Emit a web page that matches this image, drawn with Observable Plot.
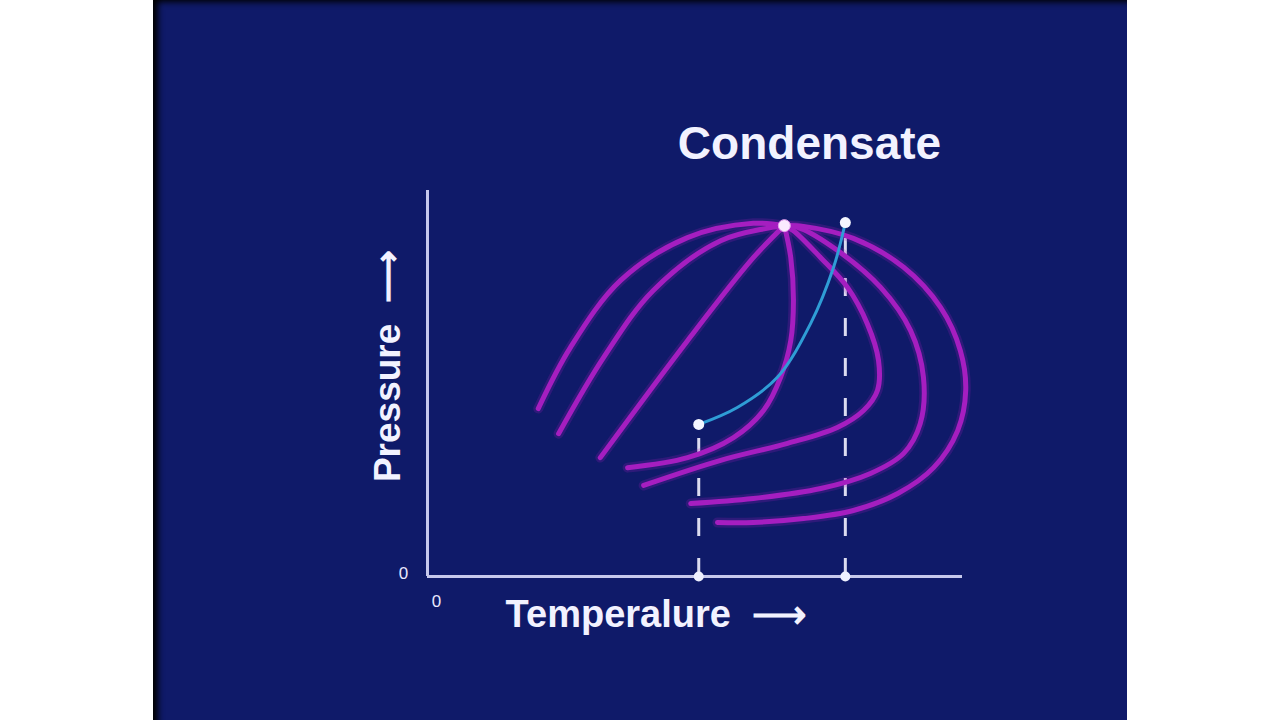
<!DOCTYPE html>
<html>
<head>
<meta charset="utf-8">
<script src="https://cdn.jsdelivr.net/npm/d3@7"></script>
<script src="https://cdn.jsdelivr.net/npm/@observablehq/plot@0.6"></script>
<style>
  html, body { margin: 0; padding: 0; background: #ffffff; width: 1280px; height: 720px; overflow: hidden; }
  #panel { position: absolute; left: 153px; top: 0; width: 974px; height: 720px;
           background: #0f1a69; box-shadow: inset 8px 5px 6px -3px #000000; }
  #chart { position: absolute; left: 0; top: 0; }
  svg text { font-family: "Liberation Sans", Arial, sans-serif; }
</style>
</head>
<body>
<div id="panel"></div>
<div id="chart"></div>
<script>
// Quality lines of the phase envelope (Temperature, Pressure), relative units 0-100
const curveA = [[20.7,43.5],[26.7,59.3],[36.1,76.7],[48.6,87.8],[60.9,91.5],[66.7,90.9]];
const curveB = [[24.5,37.0],[32.9,56.7],[42.2,74.1],[54.8,87.0],[66.7,90.9]];
const curveC = [[32.3,30.8],[48.6,61.1],[60.9,82.6],[66.7,90.9]];
const curveD = [[66.7,90.9],[67.9,82.6],[68.4,71.5],[67.9,61.1],[66.0,51.6],[62.8,43.0],[57.2,36.0],[48.6,30.8],[37.4,28.2]];
const curveE = [[66.7,90.9],[68.4,89.6],[73.5,82.6],[78.5,74.9],[82.2,65.5],[84.3,56.0],[84.1,48.2],[81.5,43.0],[76.6,38.6],[67.3,34.5],[54.8,30.1],[40.4,23.6]];
const curveF = [[66.7,90.9],[69.7,90.2],[76.6,84.5],[84.7,74.9],[90.3,63.7],[92.7,51.6],[92.1,39.6],[89.0,31.9],[82.8,26.7],[73.5,22.8],[60.9,20.2],[49.2,18.9]];
const curveG = [[66.7,90.9],[70.3,90.7],[79.6,87.6],[89.0,80.1],[95.9,69.7],[99.6,58.5],[100.6,48.2],[99.1,37.8],[94.6,28.2],[87.9,21.5],[79.6,17.1],[70.3,15.0],[60.9,14.0],[54.2,14.0]];
// Process path (cyan)
const pathLine = [[50.7,39.4],[57.9,43.8],[65.4,51.6],[71.6,65.5],[75.9,80.1],[78.1,91.7]];
// Key points
const criticalPoint = [[66.7,90.9]];
const pathEnds = [[50.7,39.4],[78.1,91.7]];
const axisDots = [[50.7,0],[78.1,0]];
// Labels
const titleText = "Condensate";
const xLabel = "Temperalure \u00a0⟶";
const yLabel = "Pressure \u00a0⟶";
const zeroLabel = "0";

const envelope = [curveA, curveB, curveC, curveD, curveE, curveF, curveG]
  .flatMap((c, i) => c.map(([t, p]) => ({t, p, id: i})));
const cyan = pathLine.map(([t, p]) => ({t, p}));
const dashes = pathEnds.map(([t, p]) => ({t, p1: 0, p2: p}));
const pts = (a) => a.map(([t, p]) => ({t, p}));

const plot = Plot.plot({
  width: 1280,
  height: 720,
  marginLeft: 427,
  marginRight: 318,
  marginTop: 190,
  marginBottom: 144,
  style: { background: "transparent", overflow: "visible" },
  x: { domain: [0, 100], axis: null },
  y: { domain: [0, 100], axis: null },
  marks: [
    // axes
    Plot.ruleX([0], { y1: 0, y2: 100, stroke: "#c6c8ec", strokeWidth: 3 }),
    Plot.ruleY([0], { x1: 0, x2: 100, stroke: "#c6c8ec", strokeWidth: 3 }),
    // dashed drop lines
    Plot.ruleX(dashes, { x: "t", y1: "p1", y2: "p2", stroke: "#dcdcf0", strokeWidth: 3, strokeDasharray: "18,22" }),
    // envelope glow + line
    Plot.line(envelope, { x: "t", y: "p", z: "id", curve: "catmull-rom", stroke: "#a11bb8", strokeWidth: 10, strokeOpacity: 0.22 }),
    Plot.line(envelope, { x: "t", y: "p", z: "id", curve: "catmull-rom", stroke: "#a51ec0", strokeWidth: 5 }),
    // cyan process path
    Plot.line(cyan, { x: "t", y: "p", curve: "catmull-rom", stroke: "#2f9dd6", strokeWidth: 3 }),
    // points
    Plot.dot(pts(criticalPoint), { x: "t", y: "p", r: 6, fill: "#fbeaff", stroke: "#e6a0f0", strokeWidth: 1 }),
    Plot.dot(pts(pathEnds), { x: "t", y: "p", r: 5.5, fill: "#f4f6ff" }),
    Plot.dot(pts(axisDots), { x: "t", y: "p", r: 5, fill: "#eef0ff" }),
    // labels
    Plot.text([titleText], { x: 71.4, y: 112, text: d => d, fill: "#f2f2ff", fontSize: 46, fontWeight: "bold", textAnchor: "middle" }),
    Plot.text([xLabel], { x: 14.6, y: -10, text: d => d, fill: "#f2f2ff", fontSize: 38, fontWeight: "bold", textAnchor: "start" }),
    Plot.text([yLabel], { x: -7.3, y: 54.5, text: d => d, fill: "#f2f2ff", fontSize: 37, fontWeight: "bold", rotate: -90, textAnchor: "middle" }),
    Plot.text([zeroLabel], { x: -4.5, y: 0.8, text: d => d, fill: "#e8e8ff", fontSize: 17 }),
    Plot.text([zeroLabel], { x: 1.7, y: -6.5, text: d => d, fill: "#e8e8ff", fontSize: 17 })
  ]
});
document.getElementById("chart").appendChild(plot);
</script>
</body>
</html>
